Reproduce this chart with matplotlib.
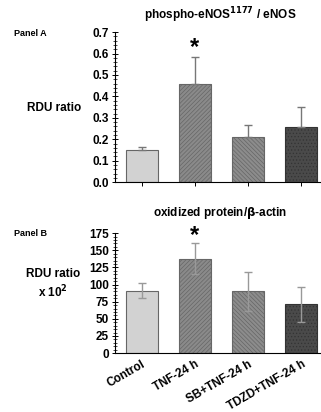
import numpy as np
import matplotlib
matplotlib.use('Agg')
import matplotlib.pyplot as plt
from matplotlib.ticker import MultipleLocator

plt.rcParams['font.family'] = ['Liberation Sans', 'DejaVu Sans']
plt.rcParams['font.weight'] = 'bold'
plt.rcParams['hatch.linewidth'] = 0.5

# Data
groups = ['Control', 'TNF-24 h', 'SB+TNF-24 h', 'TDZD+TNF-24 h']
enos_ratio = [0.15, 0.46, 0.21, 0.255]
enos_err = [0.015, 0.125, 0.055, 0.095]
oxid_ratio = [91, 138, 90, 71]
oxid_err = [11, 22, 28, 25]

colors = ['#d2d2d2', '#8a8a8a', '#8c8c8c', '#4a4a4a']
hatches = [None, '////////', '\\\\\\\\\\\\\\\\', '.....']
edges = ['#666666', '#666666', '#666666', '#333333']

fig = plt.figure(figsize=(3.21, 4.12), dpi=100)
x = np.arange(len(groups))


def style_axis(ax, ylim, major, minor, fmt):
    ax.set_xlim(-0.5, 3.5)
    ax.set_ylim(*ylim)
    for s in ['top', 'right']:
        ax.spines[s].set_visible(False)
    ax.spines['left'].set_linewidth(0.8)
    ax.spines['bottom'].set_linewidth(0.8)
    ax.yaxis.set_major_locator(MultipleLocator(major))
    ax.yaxis.set_minor_locator(MultipleLocator(minor))
    ax.yaxis.set_major_formatter(fmt)
    ax.tick_params(axis='y', which='major', direction='inout', length=5, width=0.7, labelsize=8.5, pad=2)
    ax.tick_params(axis='y', which='minor', direction='inout', length=3, width=0.5)
    ax.tick_params(axis='x', direction='out', length=3, width=0.7)
    ax.set_xticks(x)
    for lab in ax.get_yticklabels():
        lab.set_fontweight('bold')


def draw_bars(ax, vals):
    for i, v in enumerate(vals):
        ax.bar(x[i], v, width=0.6, color=colors[i], edgecolor=edges[i],
               linewidth=0.8, hatch=hatches[i], zorder=2)


# Panel A
axA = fig.add_axes([0.358, 0.558, 0.664, 0.364])
draw_bars(axA, enos_ratio)
axA.errorbar(x, enos_ratio, yerr=[np.zeros(4), enos_err], fmt='none',
             ecolor='#777777', elinewidth=1.0, capsize=3, capthick=1.0, zorder=3)
style_axis(axA, (0, 0.7), 0.1, 0.02, '{x:.1f}')
axA.set_xticklabels([])
axA.text(1, 0.628, '*', ha='center', va='center', fontsize=17, fontweight='bold', clip_on=False)
fig.text(0.685, 0.963, 'phospho-eNOS$^{\\mathbf{1177}}$ / eNOS', ha='center', va='center',
         fontsize=8.5, fontweight='bold')
fig.text(0.045, 0.918, 'Panel A', ha='left', va='center', fontsize=6.5, fontweight='bold')
fig.text(0.085, 0.738, 'RDU ratio', ha='left', va='center', fontsize=8.5, fontweight='bold')

# Panel B
axB = fig.add_axes([0.358, 0.143, 0.664, 0.291])
draw_bars(axB, oxid_ratio)
axB.errorbar(x, oxid_ratio, yerr=oxid_err, fmt='none',
             ecolor='#999999', elinewidth=1.0, capsize=3, capthick=1.0, zorder=3)
style_axis(axB, (0, 175), 25, 5, '{x:.0f}')
axB.set_xticklabels(groups, rotation=30, ha='right', rotation_mode='anchor',
                    fontsize=8.5, fontweight='bold')
axB.tick_params(axis='x', length=0, pad=4)
axB.text(1, 172, '*', ha='center', va='center', fontsize=17, fontweight='bold', clip_on=False)
fig.text(0.685, 0.483, 'oxidized protein/$\\mathbf{\\beta}$-actin', ha='center', va='center',
         fontsize=8.5, fontweight='bold')
fig.text(0.045, 0.434, 'Panel B', ha='left', va='center', fontsize=6.5, fontweight='bold')
fig.text(0.165, 0.31, 'RDU ratio\nx 10$^{\\mathbf{2}}$', ha='center', va='center',
         fontsize=8.5, fontweight='bold', linespacing=1.3)

fig.savefig('out.png', dpi=100)
